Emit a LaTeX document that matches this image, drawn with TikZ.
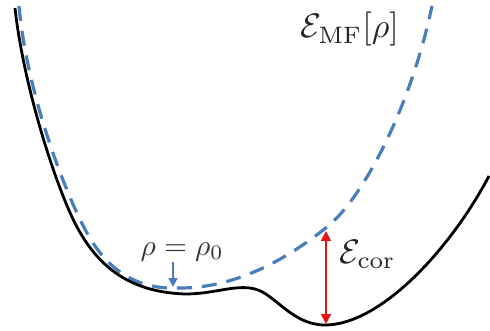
\documentclass[tikz,border=0pt]{standalone}
\usetikzlibrary{arrows.meta}
\definecolor{mfblue}{RGB}{74,126,187}
\definecolor{corred}{RGB}{230,20,20}
\begin{document}
\begin{tikzpicture}[x=1pt,y=-1pt,
  lbl/.style={font=\fontsize{10}{12}\selectfont, text=black!85, inner sep=0pt, scale=3.4, transform shape},
  smalllbl/.style={font=\fontsize{10}{12}\selectfont, text=black!80, inner sep=0pt, scale=2.95, transform shape},
  truecurve/.style={line width=2.8pt, black},
  mfcurve/.style={line width=3.2pt, mfblue, dash pattern=on 15pt off 10pt},
  corarrow/.style={line width=1.9pt, corred, {Triangle[length=10pt,width=10pt]}-{Triangle[length=10pt,width=10pt]}},
  markarrow/.style={line width=1.9pt, mfblue, -{Triangle[length=9pt,width=9pt]}}]
\useasboundingbox (0,0) rectangle (490,331);
\draw[mfcurve] (19,6) .. controls (27,95) and (66,195) .. (87,233)
  .. controls (109,273) and (140,290) .. (180,288)
  .. controls (240,288) and (292,255) .. (327,227)
  .. controls (362,199) and (410,110) .. (432,6);
\draw[truecurve] (15,8) .. controls (24,90) and (58,192) .. (77,227)
  .. controls (96,262) and (125,292) .. (185,294)
  .. controls (215,294) and (235,284) .. (255,289)
  .. controls (275,294) and (292,325) .. (325,325)
  .. controls (380,325) and (450,250) .. (489,176);
\coordinate (cortop) at (326,231);
\coordinate (corbot) at (326,324);
\draw[corarrow] (cortop) -- (corbot);
\node[lbl, anchor=base west] (ecor) at (339,263) {$\mathcal{E}_{\mathrm{cor}}$};
\node[lbl, anchor=base west] (emf) at (300,38) {$\mathcal{E}_{\mathrm{MF}}[\rho]$};
\node[smalllbl, anchor=base west] (rho) at (140,255) {$\rho=\rho_0$};
\coordinate (rhotail) at (173,262);
\coordinate (rhotip) at (173,287);
\draw[markarrow] (rhotail) -- (rhotip);
\end{tikzpicture}
\end{document}
